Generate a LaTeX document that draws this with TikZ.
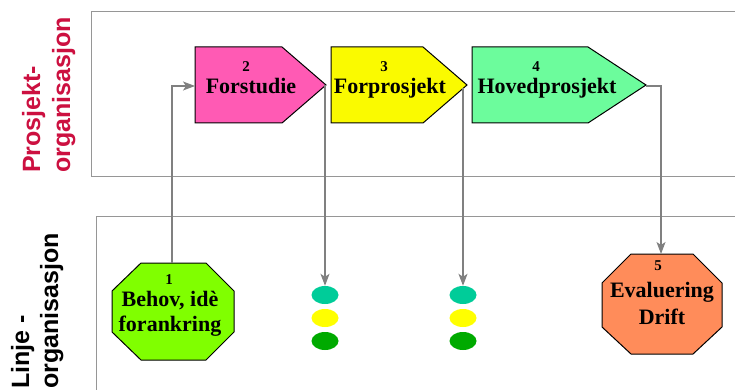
\documentclass[tikz,border=0pt]{standalone}
\usepackage{fontspec}
\setmainfont{Liberation Serif}
\newfontfamily\labelfont{Liberation Sans}
\usetikzlibrary{arrows.meta,shapes.geometric}

\definecolor{framegray}{RGB}{150,150,150}
\definecolor{flowgray}{RGB}{128,128,128}
\definecolor{labelred}{RGB}{204,16,64}
\definecolor{pinkfill}{RGB}{255,90,180}
\definecolor{yellowfill}{RGB}{250,250,0}
\definecolor{mintfill}{RGB}{108,252,156}
\definecolor{limefill}{RGB}{128,255,0}
\definecolor{salmonfill}{RGB}{255,140,90}
\definecolor{tealdot}{RGB}{0,204,153}
\definecolor{yellowdot}{RGB}{255,255,0}
\definecolor{greendot}{RGB}{0,170,0}

\begin{document}
\begin{tikzpicture}[x=1pt,y=-1pt,
  frame/.style={draw=framegray, line width=1pt},
  phase/.style={draw=black, line width=1pt, line join=miter},
  flow/.style={draw=flowgray, line width=1.2pt,
    -{Stealth[length=12pt,width=9pt,inset=3pt]}},
  sidelabel/.style={rotate=90, anchor=base west, inner sep=0pt,
    font=\labelfont\bfseries\fontsize{25}{25}\selectfont},
  numtext/.style={inner sep=0pt, font=\bfseries\fontsize{15}{15}\selectfont},
  wordtext/.style={inner sep=0pt, anchor=base, font=\bfseries\fontsize{22}{22}\selectfont},
  lamp/.style={ellipse, minimum width=27pt, minimum height=18pt, inner sep=0pt}]
\useasboundingbox (0,0) rectangle (735,390);

% frames for the two organisation levels
\draw[frame] (736,12) -- (91,12) -- (91,176) -- (736,176);
\draw[frame] (736,216) -- (96,216) -- (96,391);

% side labels
\node[sidelabel, text=labelred] (pl1) at (40,173) {Prosjekt-};
\node[sidelabel, text=labelred] (pl2) at (70,173) {organisasjon};
\node[sidelabel] (ll1) at (29,389) {Linje -};
\node[sidelabel] (ll2) at (58,389) {organisasjon};

% project phases
\draw[phase, fill=pinkfill] (195,47) -- (282,47) -- (326,85) -- (282,123) -- (195,123) -- cycle;
\draw[phase, fill=yellowfill] (331,47) -- (423,47) -- (467,85) -- (423,123) -- (331,123) -- cycle;
\draw[phase, fill=mintfill] (472,47) -- (588,47) -- (646,85) -- (588,123) -- (472,123) -- cycle;
\coordinate (p2in) at (195,86);
\coordinate (p2tip) at (326,86);
\coordinate (p3out) at (463,88);
\coordinate (p4tip) at (646,86);

\node[numtext] (n2) at (246,67) {2};
\node[wordtext] (w2) at (251,94) {Forstudie};
\node[numtext] (n3) at (384,67) {3};
\node[wordtext] (w3) at (390,94) {Forprosjekt};
\node[numtext] (n4) at (536,67) {4};
\node[wordtext] (w4) at (547,94) {Hovedprosjekt};

% line organisation stages
\draw[phase, fill=limefill] (141,263) -- (206,263) -- (234,291) -- (234,332) -- (206,360)
  -- (141,360) -- (112,332) -- (112,291) -- cycle;
\coordinate (o1top) at (172,263);
\node[numtext] (n1) at (169,280) {1};
\node[wordtext] (w1a) at (170,306) {Behov, idè};
\node[wordtext] (w1b) at (170,331) {forankring};

\draw[phase, fill=salmonfill] (631,254) -- (693,254) -- (722,283) -- (722,327) -- (693,354)
  -- (631,354) -- (602,327) -- (602,283) -- cycle;
\coordinate (o5top) at (661,254);
\node[numtext] (n5) at (658,266) {5};
\node[wordtext] (w5a) at (662,297) {Evaluering};
\node[wordtext] (w5b) at (662,324) {Drift};

% status lamps
\node[lamp, fill=tealdot] (la1) at (325,295) {};
\node[lamp, fill=yellowdot] (la2) at (325,318) {};
\node[lamp, fill=greendot] (la3) at (325,341) {};
\node[lamp, fill=tealdot] (lb1) at (463,295) {};
\node[lamp, fill=yellowdot] (lb2) at (463,318) {};
\node[lamp, fill=greendot] (lb3) at (463,341) {};

% flow between organisations
\draw[flow] (o1top) |- (p2in);
\draw[flow] (p2tip) -| (la1.north);
\draw[flow] (p3out) -- (lb1.north);
\draw[flow] (p4tip) -| (o5top);
\end{tikzpicture}
\end{document}
